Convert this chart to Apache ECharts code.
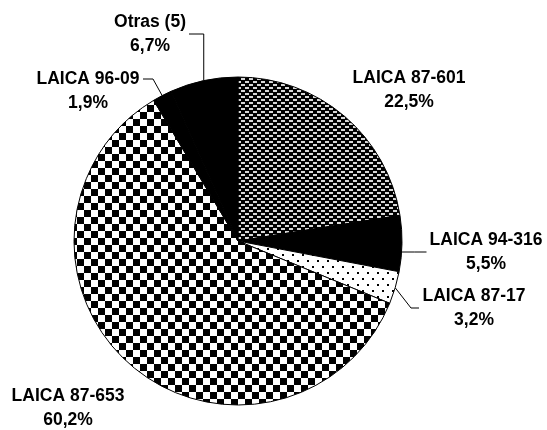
<!DOCTYPE html>
<html>
<head>
<meta charset="utf-8">
<script src="https://cdn.jsdelivr.net/npm/echarts@6/dist/echarts.min.js"></script>
<style>
  html, body { margin: 0; padding: 0; background: #fff; }
  #chart { width: 547px; height: 430px; }
</style>
</head>
<body>
<div id="chart"></div>
<script>
const names = ['LAICA 87-601', 'LAICA 94-316', 'LAICA 87-17', 'LAICA 87-653', 'LAICA 96-09', 'Otras (5)']
const shares = [22.5, 5.5, 3.2, 60.2, 1.9, 6.7]
// where each label block sits (centre) and how its leader line runs
const labelSpots = [[409, 90], [486, 252], [474, 308], [68, 408], [88, 91], [150, 34]]
const leaderKind = ['none', 'flat', 'elbowRight', 'none', 'elbowLeft', 'upLeft']

const FONT = 'Liberation Sans, Arial, sans-serif'
const FS = 17.5
const LH = 24

function tile(w, h, draw) {
  const c = document.createElement('canvas')
  c.width = w; c.height = h
  const ctx = c.getContext('2d')
  draw(ctx)
  return { image: c, repeat: 'repeat' }
}

// dark grid with light dashes (87-601)
const dashes = tile(8, 6, ctx => {
  ctx.fillStyle = '#000'; ctx.fillRect(0, 0, 8, 6)
  ctx.fillStyle = '#d8d8d8'
  ctx.fillRect(1, 0, 4, 2)
  ctx.fillRect(5, 3, 3, 2); ctx.fillRect(0, 3, 1, 2)
})
// big checker (87-653)
const checker = tile(14, 14, ctx => {
  ctx.fillStyle = '#fff'; ctx.fillRect(0, 0, 14, 14)
  ctx.fillStyle = '#000'
  ctx.fillRect(0, 0, 7, 7); ctx.fillRect(7, 7, 7, 7)
})
// sparse dots (87-17)
const dots = tile(10, 12, ctx => {
  ctx.fillStyle = '#fff'; ctx.fillRect(0, 0, 10, 12)
  ctx.fillStyle = '#000'
  ctx.fillRect(2, 2, 2, 2); ctx.fillRect(7, 8, 2, 2)
})
const fills = [dashes, '#000', dots, checker, '#000', '#000']

const pct = v => v.toFixed(1).replace('.', ',') + '%'

// width of the widest line so both lines can be centred in the same box
const measure = document.createElement('canvas').getContext('2d')
measure.font = 'bold ' + FS + 'px ' + FONT
const boxW = names.map((n, i) => Math.ceil(Math.max(
  measure.measureText(n).width, measure.measureText(pct(shares[i])).width)))

function leader(p) {
  const kind = leaderKind[p.dataIndex]
  const pts = p.labelLinePoints
  if (kind === 'none' || !pts) return undefined
  const [cx, cy] = labelSpots[p.dataIndex]
  const w = boxW[p.dataIndex]
  const a = pts[0]
  const left = cx - w / 2 - 3
  const right = cx + w / 2 + 3
  const topLine = cy - LH / 2
  if (kind === 'flat') return [[a[0], cy], [(a[0] + left) / 2, cy], [left, cy]]
  if (kind === 'elbowRight') return [a, [left - 8, cy], [left, cy]]
  if (kind === 'elbowLeft') return [a, [right + 10, topLine], [right, topLine]]
  return [a, [a[0], cy], [right, cy]]
}

const chart = echarts.init(document.getElementById('chart'))
chart.setOption({
  animation: false,
  backgroundColor: '#fff',
  series: [{
    type: 'pie',
    center: [238, 241],
    radius: 164,
    startAngle: 90,
    clockwise: true,
    data: names.map((n, i) => ({
      name: n,
      value: shares[i],
      itemStyle: { color: fills[i] },
      labelLine: { show: leaderKind[i] !== 'none' },
      label: {
        rich: {
          t: {
            width: boxW[i], align: 'center', color: '#000',
            fontFamily: FONT, fontWeight: 'bold', fontSize: FS, lineHeight: LH,
          },
        },
      },
    })),
    itemStyle: { borderColor: '#000', borderWidth: 1 },
    label: {
      show: true,
      position: 'outside',
      overflow: 'none',
      color: '#000',
      fontFamily: FONT,
      fontWeight: 'bold',
      fontSize: FS,
      lineHeight: LH,
      formatter: p => '{t|' + p.name + '}\n{t|' + pct(p.value) + '}',
    },
    labelLine: {
      show: true,
      length: 4,
      length2: 6,
      lineStyle: { color: '#000', width: 1 },
    },
    labelLayout: p => ({
      x: labelSpots[p.dataIndex][0],
      y: labelSpots[p.dataIndex][1],
      align: 'center',
      verticalAlign: 'middle',
      labelLinePoints: leader(p),
    }),
    emphasis: { disabled: true },
  }],
})
</script>
</body>
</html>
